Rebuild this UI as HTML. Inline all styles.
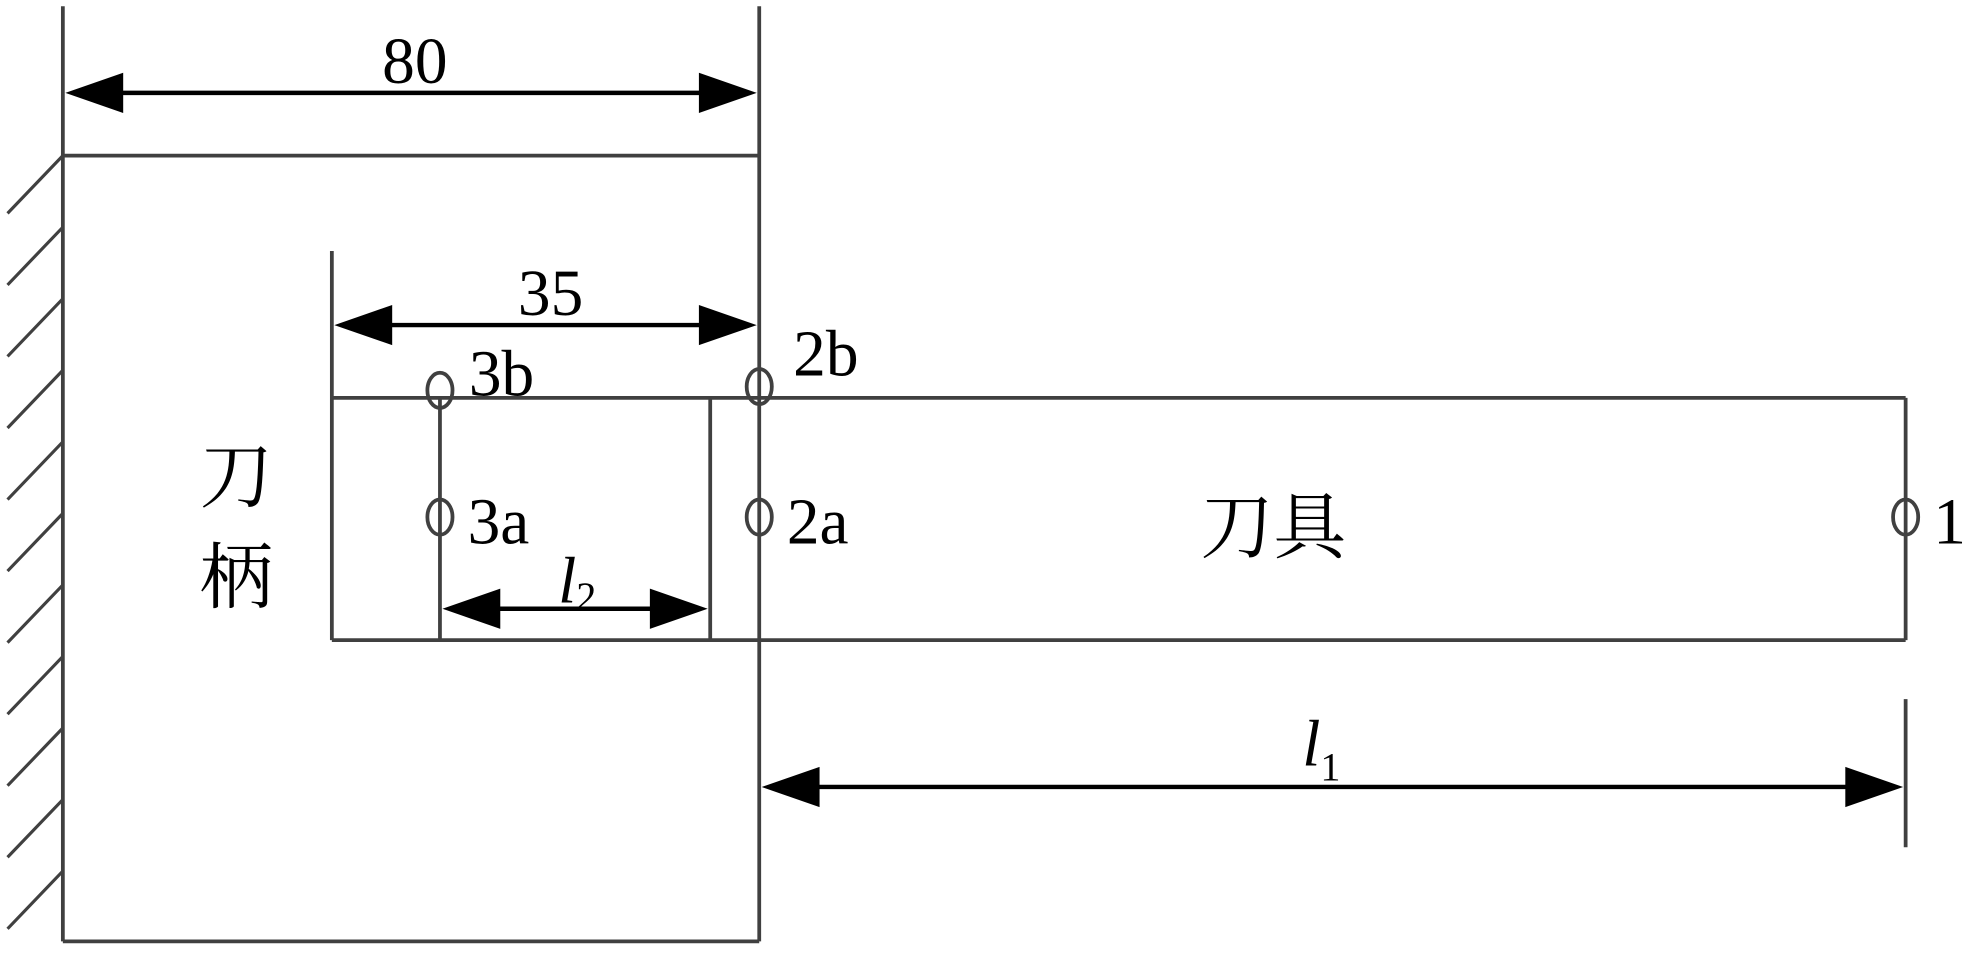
<!DOCTYPE html>
<html><head><meta charset="utf-8"><style>html,body{margin:0;padding:0;background:#fff}svg{display:block}</style></head>
<body>
<svg width="1971" height="974" viewBox="0 0 1568 776" preserveAspectRatio="none" xmlns="http://www.w3.org/2000/svg">
<g stroke="#404040" stroke-width="3" fill="none">
<line x1="50" y1="5" x2="50" y2="750"/>
<line x1="604" y1="5" x2="604" y2="750"/>
<line x1="50" y1="124" x2="604" y2="124"/>
<line x1="50" y1="750" x2="604" y2="750"/>
<line x1="264" y1="200" x2="264" y2="510"/>
<line x1="264" y1="317" x2="1516" y2="317"/>
<line x1="264" y1="510" x2="1516" y2="510"/>
<line x1="350" y1="317" x2="350" y2="510"/>
<line x1="565" y1="317" x2="565" y2="510"/>
<line x1="1516" y1="317" x2="1516" y2="510"/>
<line x1="1516" y1="557" x2="1516" y2="675"/>
<g stroke-width="2.5">
<line x1="50" y1="124" x2="6" y2="170"/>
<line x1="50" y1="181" x2="6" y2="227"/>
<line x1="50" y1="238" x2="6" y2="284"/>
<line x1="50" y1="295" x2="6" y2="341"/>
<line x1="50" y1="352" x2="6" y2="398"/>
<line x1="50" y1="409" x2="6" y2="455"/>
<line x1="50" y1="466" x2="6" y2="512"/>
<line x1="50" y1="523" x2="6" y2="569"/>
<line x1="50" y1="580" x2="6" y2="626"/>
<line x1="50" y1="637" x2="6" y2="683"/>
<line x1="50" y1="694" x2="6" y2="740"/>
</g>
<ellipse cx="350" cy="311" rx="10" ry="14"/>
<ellipse cx="604" cy="308" rx="10" ry="14"/>
<ellipse cx="350" cy="412" rx="10" ry="14"/>
<ellipse cx="604" cy="412" rx="10" ry="14"/>
<ellipse cx="1516" cy="412" rx="10" ry="14"/>
</g>
<g stroke="#000" stroke-width="3.5">
<line x1="90" y1="74" x2="564" y2="74"/>
<line x1="304" y1="259" x2="564" y2="259"/>
<line x1="390" y1="485" x2="525" y2="485"/>
<line x1="644" y1="627" x2="1476" y2="627"/>
</g>
<g fill="#000">
<polygon points="52,74 98,58 98,90"/><polygon points="602,74 556,58 556,90"/>
<polygon points="266,259 312,243 312,275"/><polygon points="602,259 556,243 556,275"/>
<polygon points="352,485 398,469 398,501"/><polygon points="563,485 517,469 517,501"/>
<polygon points="606,627 652,611 652,643"/><polygon points="1514,627 1468,611 1468,643"/>
</g>
<g font-family="Liberation Serif, serif" font-size="52" fill="#000">
<text x="330" y="66" text-anchor="middle">80</text>
<text x="438" y="251" text-anchor="middle">35</text>
<text x="373" y="315">3b</text>
<text x="631" y="299">2b</text>
<text x="372" y="433">3a</text>
<text x="626" y="433">2a</text>
<text x="1538" y="433">1</text>
<text x="444" y="480" font-style="italic">l<tspan font-size="32" font-style="normal" dy="6">2</tspan></text>
<text x="1036" y="610" font-style="italic">l<tspan font-size="32" font-style="normal" dy="12">1</tspan></text>
</g>
<g font-family="Liberation Serif, 'Noto Serif CJK SC', serif" font-size="58" fill="#000">
<text x="188" y="400" text-anchor="middle">刀</text>
<text x="188" y="480" text-anchor="middle">柄</text>
<text x="1013" y="440" text-anchor="middle">刀具</text>
</g>
</svg>
</body></html>
